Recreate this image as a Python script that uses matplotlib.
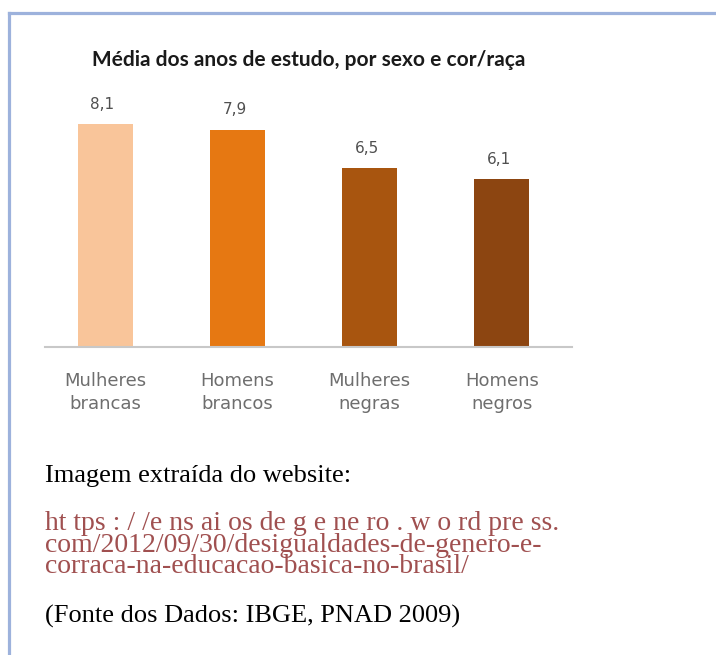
import matplotlib
matplotlib.use("Agg")
import matplotlib.pyplot as plt
from matplotlib.lines import Line2D

categories = ["Mulheres\nbrancas", "Homens\nbrancos", "Mulheres\nnegras", "Homens\nnegros"]
values = [8.1, 7.9, 6.5, 6.1]
value_labels = ["8,1", "7,9", "6,5", "6,1"]
colors = ["#f9c59a", "#e67812", "#a8550f", "#8c4511"]
title = "Média dos anos de estudo, por sexo e cor/raça"
url_lines = ["ht tps : / /e ns ai os de g e ne ro . w o rd pre ss.",
             "com/2012/09/30/desigualdades-de-genero-e-",
             "corraca-na-educacao-basica-no-brasil/"]

W, H = 716, 655
fig = plt.figure(figsize=(W / 100, H / 100), dpi=100)
fig.patch.set_facecolor("white")

def fx(px):
    return px / W

def fy(py):
    return 1 - py / H

# frame lines
frame_c = "#9db2dc"
fig.add_artist(Line2D([fx(8.5), fx(8.5)], [fy(12.5), fy(655)], color=frame_c, lw=2.3, transform=fig.transFigure))
fig.add_artist(Line2D([fx(8.5), fx(716)], [fy(12.5), fy(12.5)], color=frame_c, lw=2.3, transform=fig.transFigure))

ax = fig.add_axes([fx(45), fy(347), fx(572) - fx(45), (347 - 99.5) / H])
x = list(range(len(values)))
ax.bar(x, values, width=0.415, color=colors)
ax.set_xlim(-0.454, 3.53)
ax.set_ylim(0, 9)
for xi, v, lab in zip(x, values, value_labels):
    ax.text(xi - 0.02, v + 0.45, lab, ha="center", va="bottom", fontsize=11, color="#505050", family="DejaVu Sans")
for s in ["top", "right", "left"]:
    ax.spines[s].set_visible(False)
ax.spines["bottom"].set_color("#c8c8c8")
ax.spines["bottom"].set_linewidth(1.5)
ax.set_yticks([])
ax.set_xticks(x)
ax.set_xticklabels(categories, fontsize=13, color="#6e6e6e", family="DejaVu Sans", linespacing=1.38)
ax.tick_params(axis="x", length=0, pad=18)
ax.set_facecolor("none")

fig.text(fx(309), fy(60), title, ha="center", va="center", fontsize=15, fontweight="bold",
         color="#1a1a1a", family="Lato")

serif = "Liberation Serif"
fig.text(fx(45), fy(476), "Imagem extraída do website:", ha="left", va="center", fontsize=19, family=serif, color="black")
url_c = "#a05050"
fig.text(fx(45), fy(545), "\n".join(url_lines), ha="left", va="center", fontsize=20, family=serif,
         color=url_c, linespacing=0.84)
fig.text(fx(45), fy(616), "(Fonte dos Dados: IBGE, PNAD 2009)", ha="left", va="center", fontsize=19, family=serif, color="black")

fig.savefig("out.png", dpi=100)
